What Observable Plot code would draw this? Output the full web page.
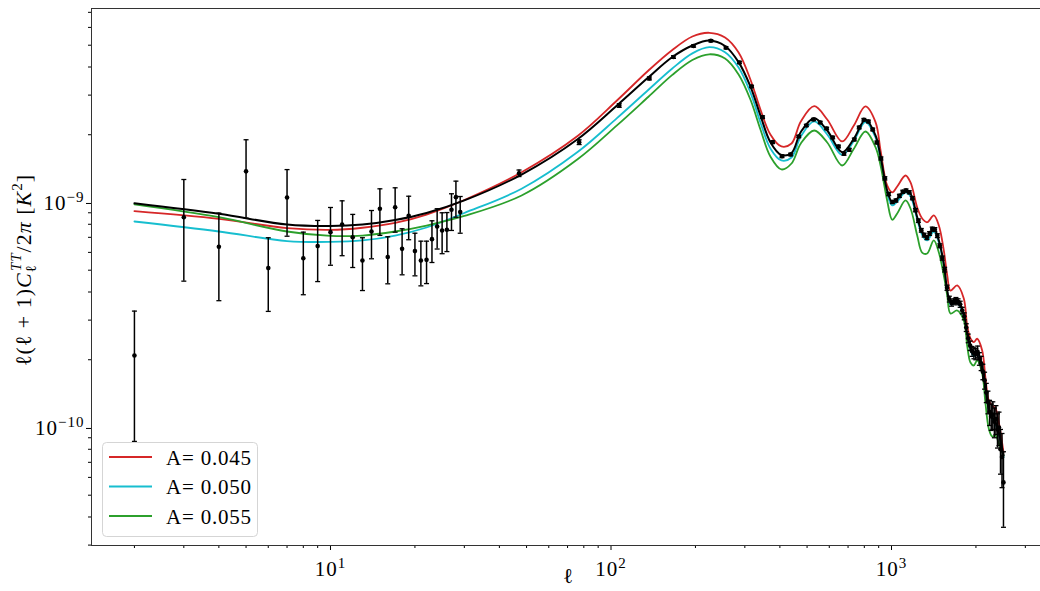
<!DOCTYPE html>
<html>
<head>
<meta charset="utf-8">
<script src="https://cdn.jsdelivr.net/npm/d3@7"></script>
<script src="https://cdn.jsdelivr.net/npm/@observablehq/plot@0.6"></script>
<style>
  html, body { margin: 0; padding: 0; background: #fff; overflow: hidden; }
  #wrap { position: relative; width: 1060px; height: 591px; }
  #legend { position: absolute; left: 102px; top: 442px; }
</style>
</head>
<body>
<div id="wrap"></div>
<script>
// Multipoles at which the model spectra are sampled
const modelEll = [2, 4, 7, 10, 13, 17, 22, 30, 48, 76, 105, 136, 165, 195, 224, 255, 285, 314,
  341, 370, 405, 440, 475, 530, 590, 667, 734, 807, 877, 914, 965, 1006, 1048, 1122, 1169, 1235,
  1286, 1340, 1415, 1475, 1536, 1580, 1623, 1715, 1810, 1861, 1912, 1965, 2020, 2105, 2163, 2222,
  2285, 2349, 2413, 2508];

// D_ell = ell(ell+1)C_ell/2pi, in units of 1e-9 K^2
const bestFit = [0.993, 0.891, 0.798, 0.786, 0.798, 0.836, 0.898, 1.021, 1.331, 1.910, 2.698, 3.600,
  4.420, 4.986, 5.248, 4.961, 4.204, 3.278, 2.436, 1.854, 1.626, 1.660, 2.058, 2.370, 2.089, 1.673,
  1.919, 2.331, 1.985, 1.601, 1.131, 1.003, 1.039, 1.131, 1.093, 0.860, 0.738, 0.701, 0.764, 0.678,
  0.534, 0.406, 0.3605, 0.3667, 0.320, 0.261, 0.2275, 0.2127, 0.2162, 0.1854, 0.151, 0.1215, 0.1119,
  0.1052, 0.0950, 0.0751];
const modelA045 = [0.915, 0.846, 0.769, 0.755, 0.772, 0.811, 0.884, 1.026, 1.363, 1.975, 2.840, 3.860,
  4.750, 5.467, 5.678, 5.412, 4.642, 3.521, 2.590, 2.005, 1.774, 1.829, 2.291, 2.679, 2.338, 1.867,
  2.199, 2.671, 2.275, 1.703, 1.190, 1.108, 1.178, 1.318, 1.227, 0.950, 0.849, 0.817, 0.876, 0.790,
  0.612, 0.474, 0.406, 0.428, 0.3745, 0.284, 0.2487, 0.2393, 0.2479, 0.2198, 0.1651, 0.1318, 0.1252,
  0.1215, 0.1052, 0.0774];
const modelA050 = [0.823, 0.743, 0.674, 0.668, 0.678, 0.713, 0.774, 0.898, 1.151, 1.675, 2.370, 3.170,
  3.930, 4.600, 4.900, 4.656, 3.981, 3.083, 2.268, 1.738, 1.537, 1.585, 1.965, 2.291, 2.005, 1.626,
  1.877, 2.279, 1.944, 1.561, 1.096, 0.970, 1.010, 1.108, 1.063, 0.840, 0.717, 0.678, 0.743, 0.664,
  0.525, 0.398, 0.352, 0.3576, 0.3131, 0.2564, 0.2222, 0.2068, 0.2111, 0.182, 0.1483, 0.119, 0.1096,
  0.1031, 0.0931, 0.0736];
const modelA055 = [0.980, 0.860, 0.743, 0.710, 0.713, 0.743, 0.790, 0.871, 1.074, 1.555, 2.200, 2.950,
  3.680, 4.300, 4.557, 4.365, 3.707, 2.869, 2.111, 1.601, 1.402, 1.490, 1.829, 2.089, 1.848, 1.460,
  1.733, 2.068, 1.761, 1.460, 1.021, 0.838, 0.894, 1.021, 0.940, 0.713, 0.599, 0.593, 0.678, 0.599,
  0.474, 0.386, 0.321, 0.331, 0.299, 0.2313, 0.1945, 0.1886, 0.1985, 0.1738, 0.1278, 0.099, 0.0912,
  0.0921, 0.0849, 0.0751];

// Low-ell measurements, one per multipole, with their lower and upper error limits (1e-9 K^2)
const lowEll = [2, 3, 4, 5, 6, 7, 8, 9, 10, 11, 12, 13, 14, 15, 16, 17, 18, 19, 20, 21, 22, 23, 24,
  25, 26, 27, 28, 29];
const lowD = [0.209, 0.86, 0.636, 1.375, 0.511, 1.052, 0.565, 0.64, 0.738, 0.798, 0.701, 0.552, 0.743,
  0.938, 0.572, 0.953, 0.622, 0.873, 0.608, 0.552, 0.556, 0.687, 0.782, 0.751, 0.756, 0.928, 1.056, 0.906];
const lowDmin = [0.0867, 0.447, 0.366, 0.852, 0.328, 0.708, 0.389, 0.445, 0.526, 0.58, 0.514, 0.406,
  0.562, 0.714, 0.435, 0.738, 0.477, 0.683, 0.472, 0.426, 0.436, 0.541, 0.621, 0.592, 0.605, 0.751,
  0.86, 0.73];
const lowDmax = [0.329, 1.265, 0.897, 1.90, 0.697, 1.40, 0.738, 0.832, 0.95, 1.017, 0.885, 0.697, 0.921,
  1.15, 0.704, 1.162, 0.764, 1.066, 0.73, 0.673, 0.673, 0.829, 0.938, 0.90, 0.902, 1.093, 1.244, 1.063];

// Binned high-ell measurements (bin centres) with symmetric errors (1e-9 K^2)
const binEll = [47, 77, 107, 137, 167, 197, 227, 257, 287, 317, 347, 377, 407, 437, 467, 497, 527, 557,
  587, 617, 647, 677, 707, 737, 767, 797, 827, 857, 887, 917, 947, 977, 1007, 1037, 1067, 1097, 1127,
  1157, 1187, 1217, 1247, 1277, 1307, 1337, 1367, 1397, 1427, 1457, 1487, 1517, 1547, 1577, 1607, 1637,
  1667, 1697, 1727, 1757, 1787, 1817, 1847, 1877, 1907, 1937, 1967, 1997, 2027, 2057, 2087, 2117, 2147,
  2177, 2207, 2237, 2267, 2297, 2327, 2357, 2387, 2417, 2447, 2477, 2507];
const binD = [1.349, 1.854, 2.698, 3.560, 4.430, 4.961, 5.232, 4.870, 4.19, 3.278, 2.394, 1.854, 1.606,
  1.634, 1.965, 2.199, 2.338, 2.268, 2.133, 1.944, 1.774, 1.646, 1.715, 1.905, 2.154, 2.331, 2.291, 2.111,
  1.848, 1.569, 1.28, 1.09, 1.005, 1.02, 1.07, 1.115, 1.13, 1.11, 1.045, 0.925, 0.83, 0.752, 0.716, 0.698,
  0.728, 0.762, 0.758, 0.712, 0.642, 0.566, 0.503, 0.418, 0.372, 0.357, 0.362, 0.367, 0.362, 0.353, 0.331,
  0.312, 0.278, 0.249, 0.231, 0.218, 0.214, 0.212, 0.217, 0.202, 0.193, 0.177, 0.162, 0.143, 0.130, 0.117,
  0.112, 0.114, 0.106, 0.109, 0.098, 0.100, 0.080, 0.074, 0.057];
const binSigma = [0.045, 0.045, 0.05, 0.055, 0.06, 0.06, 0.06, 0.055, 0.05, 0.04,
  0.032, 0.026, 0.023, 0.022, 0.023, 0.025, 0.027, 0.027, 0.026, 0.025,
  0.024, 0.024, 0.025, 0.027, 0.029, 0.031, 0.031, 0.029, 0.027, 0.024,
  0.021, 0.018, 0.016, 0.016, 0.017, 0.018, 0.018, 0.018, 0.017, 0.016,
  0.015, 0.014, 0.014, 0.014, 0.014, 0.015, 0.015, 0.014, 0.013, 0.012,
  0.012, 0.011, 0.011, 0.011, 0.011, 0.011, 0.011, 0.011, 0.011, 0.011,
  0.011, 0.011, 0.011, 0.011, 0.012, 0.012, 0.013, 0.013, 0.014, 0.014,
  0.014, 0.014, 0.015, 0.015, 0.015, 0.016, 0.016, 0.016, 0.017, 0.017,
  0.018, 0.02, 0.021];

// Legend entries and axis ticks
const legendLabels = ["A= 0.045", "A= 0.050", "A= 0.055"];
const legendColors = ["#d62728", "#17becf", "#2ca02c"];
const xMajor = [10, 100, 1000];
const xMinor = [2, 3, 4, 5, 6, 7, 8, 9, 20, 30, 40, 50, 60, 70, 80, 90,
  200, 300, 400, 500, 600, 700, 800, 900, 2000, 3000];
const yMajor = [1e-10, 1e-9];
const yMinor = [3e-11, 4e-11, 5e-11, 6e-11, 7e-11, 8e-11, 9e-11,
  2e-10, 3e-10, 4e-10, 5e-10, 6e-10, 7e-10, 8e-10, 9e-10,
  2e-9, 3e-9, 4e-9, 5e-9, 6e-9, 7e-9];

const unit = 1e-9;
const toRows = (values) => modelEll.map((ell, i) => ({ell, D: values[i] * unit}));
const lowRows = lowEll.map((ell, i) => ({ell, D: lowD[i] * unit, lo: lowDmin[i] * unit, hi: lowDmax[i] * unit}));
const binRows = binEll.map((ell, i) => ({ell, D: binD[i] * unit,
  lo: (binD[i] - binSigma[i]) * unit, hi: (binD[i] + binSigma[i]) * unit}));
const measured = lowRows.concat(binRows);

// short horizontal bar used as an error-bar cap
const cap = {draw(context, size) {
  const w = Math.sqrt(size / Math.PI);
  context.moveTo(-w, 0);
  context.lineTo(w, 0);
}};

const serif = "'Liberation Serif', 'DejaVu Serif', serif";
const powerLabel = (d) => "10^" + Math.round(Math.log10(d));

const chart = Plot.plot({
  width: 1060,
  height: 591,
  marginLeft: 91,
  marginRight: 14,
  marginTop: 8,
  marginBottom: 46,
  style: {fontFamily: serif, fontSize: "21px", background: "#fff", color: "#000"},
  x: {type: "log", domain: [1.406, 3569]},
  y: {type: "log", domain: [2.988e-11, 7.28e-9]},
  marks: [
    Plot.axisX({ticks: xMinor, tickSize: 3, tickFormat: () => "", label: null, strokeWidth: 1}),
    Plot.axisX({ticks: xMajor, tickSize: 5, tickPadding: 11, tickFormat: powerLabel, label: null,
      fontSize: 21, strokeWidth: 1}),
    Plot.axisY({ticks: yMinor, tickSize: 3, tickFormat: () => "", label: null, strokeWidth: 1}),
    Plot.axisY({ticks: yMajor, tickSize: 5, tickPadding: 2, tickFormat: powerLabel, label: null,
      fontSize: 21, dy: 1, strokeWidth: 1}),
    Plot.line(toRows(modelA045), {x: "ell", y: "D", stroke: legendColors[0], strokeWidth: 1.8, curve: "catmull-rom"}),
    Plot.line(toRows(modelA050), {x: "ell", y: "D", stroke: legendColors[1], strokeWidth: 1.8, curve: "catmull-rom"}),
    Plot.line(toRows(modelA055), {x: "ell", y: "D", stroke: legendColors[2], strokeWidth: 1.8, curve: "catmull-rom"}),
    Plot.line(toRows(bestFit), {x: "ell", y: "D", stroke: "#000", strokeWidth: 2, curve: "catmull-rom"}),
    Plot.ruleX(measured, {x: "ell", y1: "lo", y2: "hi", stroke: "#000", strokeWidth: 1.5}),
    Plot.dot(measured, {x: "ell", y: "lo", symbol: cap, r: 2.5, stroke: "#000", strokeWidth: 1.3, fill: "none"}),
    Plot.dot(measured, {x: "ell", y: "hi", symbol: cap, r: 2.5, stroke: "#000", strokeWidth: 1.3, fill: "none"}),
    Plot.dot(measured, {x: "ell", y: "D", r: 2.3, fill: "#000"}),
    Plot.frame({stroke: "#333", strokeWidth: 1})
  ]
});

const NS = "http://www.w3.org/2000/svg";
// typeset "10^k" tick labels with a raised exponent
d3.select(chart).selectAll("text").each(function () {
  const m = /^10\^(.+)$/.exec(this.textContent);
  if (!m) return;
  this.textContent = "";
  this.setAttribute("letter-spacing", "1");
  const base = document.createElementNS(NS, "tspan");
  base.textContent = "10";
  const sup = document.createElementNS(NS, "tspan");
  sup.textContent = m[1].replace("-", "\u2212");
  sup.setAttribute("dy", "-8");
  sup.setAttribute("font-size", "15px");
  this.append(base, sup);
});

// axis titles
function mathText(parent, parts) {
  for (const [str, opt] of parts) {
    const t = parent.append("tspan").text(str);
    if (opt.italic) t.attr("font-style", "italic");
    if (opt.size) t.attr("font-size", opt.size);
    if (opt.dy) t.attr("dy", opt.dy);
    if (opt.dx) t.attr("dx", opt.dx);
  }
}
const svg = d3.select(chart);
const yTitle = svg.append("text")
  .attr("transform", "translate(31,270) rotate(-90)")
  .attr("text-anchor", "middle")
  .attr("font-family", serif)
  .attr("font-size", 22)
  .attr("letter-spacing", 1)
  .attr("fill", "#000");
mathText(yTitle, [
  ["\u2113(\u2113 + 1)", {}],
  ["C", {italic: true}],
  ["\u2113", {size: 15, dy: 5}],
  ["TT", {size: 15, italic: true, dy: -15, dx: -7}],
  ["/2", {dy: 10}],
  ["\u03c0", {italic: true}],
  [" [", {}],
  ["K", {italic: true}],
  ["2", {size: 15, dy: -9}],
  ["]", {dy: 9}]
]);
svg.append("text")
  .attr("x", 568).attr("y", 583)
  .attr("text-anchor", "middle")
  .attr("font-family", serif)
  .attr("font-size", 21)
  .attr("fill", "#000")
  .text("\u2113");

const wrap = document.getElementById("wrap");
wrap.append(chart);

// legend box in the lower-left corner of the axes
const lg = d3.select(wrap).append("svg")
  .attr("id", "legend")
  .attr("width", 157).attr("height", 96);
lg.append("rect")
  .attr("x", 0.5).attr("y", 0.5).attr("width", 155).attr("height", 94)
  .attr("rx", 4).attr("ry", 4)
  .attr("fill", "rgba(255,255,255,0.8)")
  .attr("stroke", "#d5d5d5").attr("stroke-width", 1);
legendLabels.forEach((label, i) => {
  const y = 15 + i * 29.5;
  lg.append("line")
    .attr("x1", 7).attr("x2", 50).attr("y1", y).attr("y2", y)
    .attr("stroke", legendColors[i]).attr("stroke-width", 2);
  lg.append("text")
    .attr("x", 64).attr("y", y + 7.5)
    .attr("font-family", serif).attr("font-size", 21).attr("letter-spacing", 0.8)
    .attr("fill", "#000")
    .text(label);
});
</script>
</body>
</html>
